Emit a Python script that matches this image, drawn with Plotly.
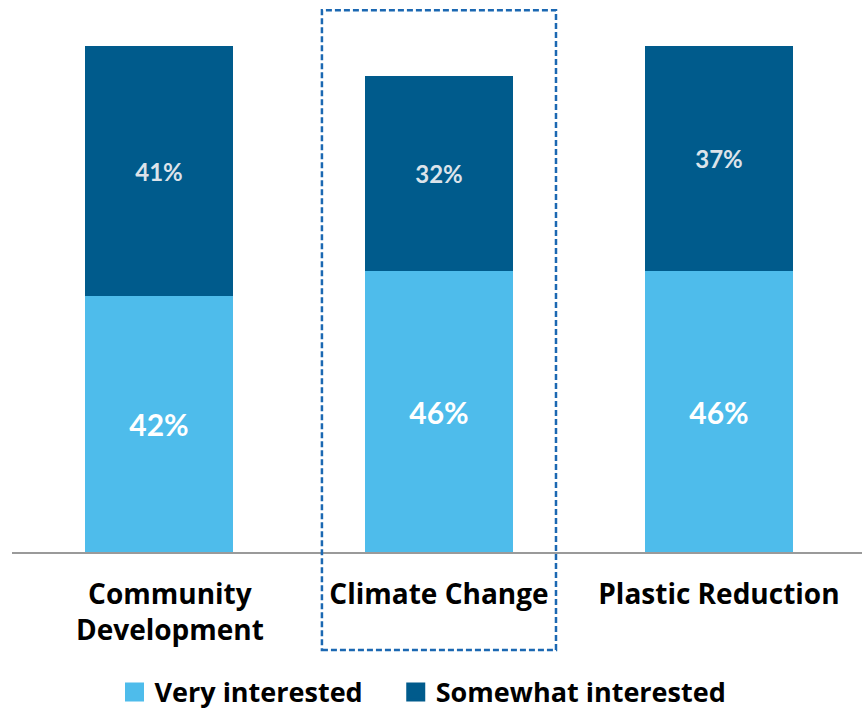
import plotly.graph_objects as go

categories = ["Community Development", "Climate Change", "Plastic Reduction"]
tick_labels = ["\u00a0\u00a0\u00a0Community<br>\u00a0\u00a0\u00a0Development", "Climate Change", "Plastic Reduction"]
legend_names = ["Very interested", "Somewhat interested"]
very_interested = [42, 46, 46]
somewhat_interested = [41, 32, 37]
highlight_category = 1

light_blue = "#4EBCEB"
dark_blue = "#005B8C"
label_font = "Lato, 'Open Sans', sans-serif"
text_font = "'Open Sans', Lato, sans-serif"

fig = go.Figure()

fig.add_trace(go.Bar(
    x=list(range(len(categories))), y=very_interested,
    name=legend_names[0], marker=dict(color=light_blue, line=dict(width=0)),
    text=[f"{v}%" for v in very_interested], textposition="inside",
    insidetextanchor="middle", textangle=0,
    textfont=dict(family=label_font, size=30, color="white", weight="bold"),
    showlegend=False, width=0.53,
))
fig.add_trace(go.Bar(
    x=list(range(len(categories))), y=somewhat_interested,
    name=legend_names[1], marker=dict(color=dark_blue, line=dict(width=0)),
    text=[f"{v}%" for v in somewhat_interested], textposition="inside",
    insidetextanchor="middle", textangle=0,
    textfont=dict(family=label_font, size=24, color="#DCE3EA", weight="bold"),
    showlegend=False, width=0.53,
))

# legend entries with larger square swatches
for name, col in zip(legend_names, [light_blue, dark_blue]):
    fig.add_trace(go.Scatter(
        x=[None], y=[None], mode="markers", name=name + "\u00a0" * 4,
        marker=dict(symbol="square", size=16, color=col, line=dict(color=col, width=3)),
    ))

# dashed highlight frame around the middle category
fig.add_shape(
    type="rect", xref="x", yref="paper",
    x0=highlight_category - 0.418, x1=highlight_category + 0.418,
    y0=-0.1785, y1=0.987,
    line=dict(color="#1B68B2", width=2.5, dash="6px,3px"),
    fillcolor="rgba(0,0,0,0)", layer="above",
)

fig.update_layout(
    width=862, height=710,
    barmode="stack", bargap=0,
    margin=dict(l=12, r=0, t=3, b=158, autoexpand=False),
    plot_bgcolor="white", paper_bgcolor="white",
    font=dict(family=text_font, color="black"),
    xaxis=dict(
        range=[-0.525, 2.511], tickmode="array",
        tickvals=list(range(len(categories))), ticktext=tick_labels,
        tickfont=dict(family=text_font, size=28, color="black", weight="bold"),
        showline=True, linecolor="#9A9A9A", linewidth=2, automargin=False,
        showgrid=False, zeroline=False, ticks="", ticklabelstandoff=16,
    ),
    yaxis=dict(range=[0, 90], visible=False, showgrid=False, zeroline=False),
    legend=dict(
        orientation="h", x=0.5, xanchor="center", y=-0.211, yanchor="top",
        font=dict(family=text_font, size=27, color="black", weight="bold"),
        itemsizing="trace", traceorder="normal", itemwidth=30,
    ),
)

fig.write_html("out.html")
